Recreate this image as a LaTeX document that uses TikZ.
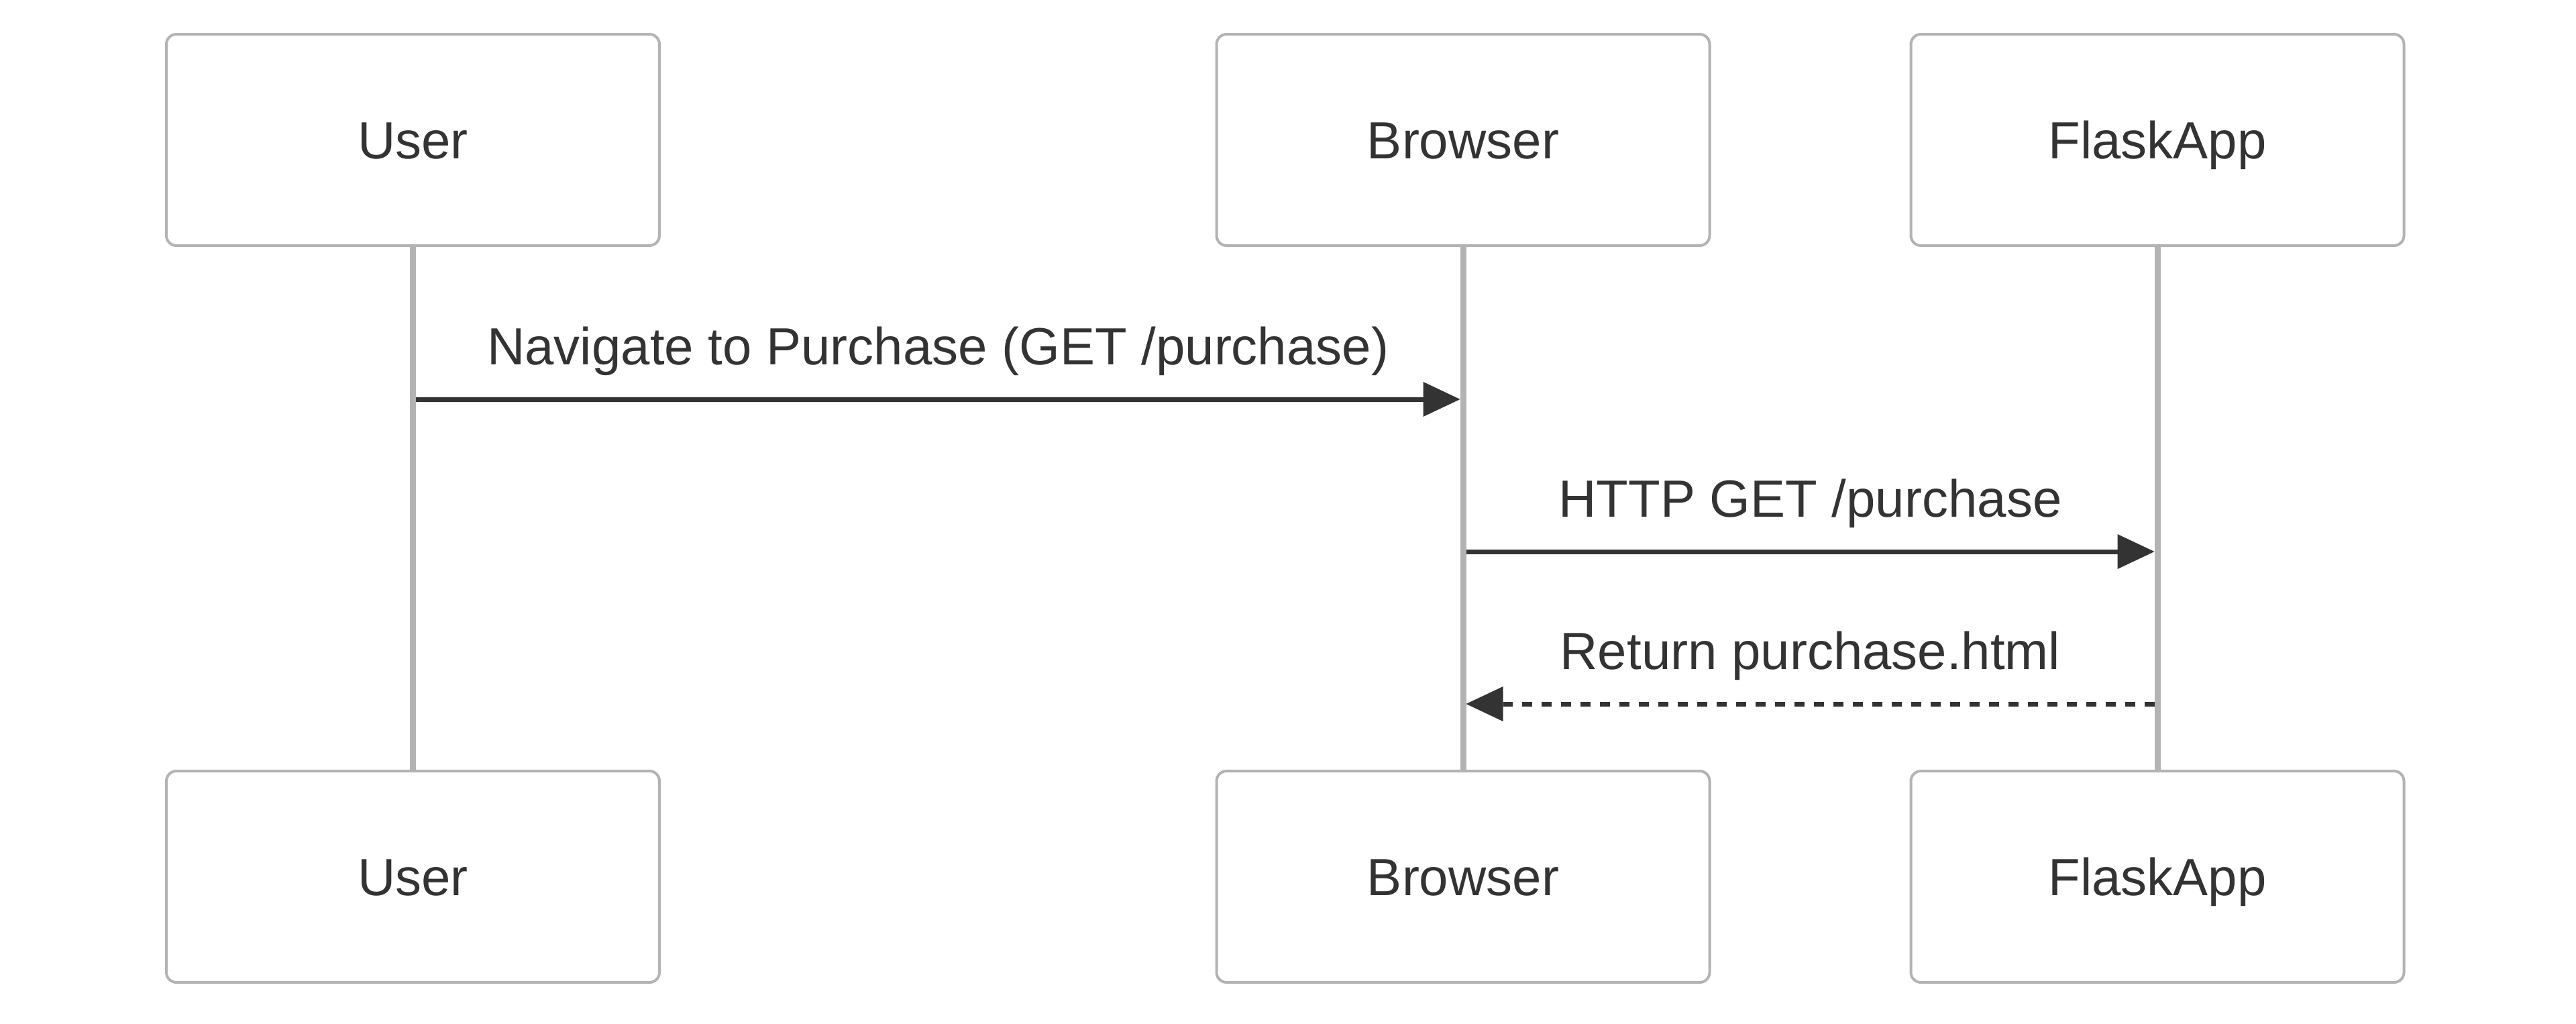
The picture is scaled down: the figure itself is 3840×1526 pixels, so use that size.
\documentclass[tikz,border=0pt]{standalone}
\usepackage{fontspec}
\setmainfont{Liberation Sans}
\usetikzlibrary{arrows.meta}
\definecolor{boxgray}{HTML}{B3B3B3}
\definecolor{ink}{HTML}{333333}
\begin{document}
\begin{tikzpicture}[x=0.5pt,y=-0.5pt,
  actor/.style={draw=boxgray, line width=2pt, fill=white, rounded corners=7.5pt,
    minimum width=367.5pt, minimum height=157.5pt, inner sep=0pt, text=ink,
    text height=27.5pt, text depth=0pt,
    font=\fontsize{39}{47}\selectfont},
  life/.style={draw=boxgray, line width=4.5pt},
  msg/.style={draw=ink, line width=3.5pt,
    -{Triangle[length=27.5pt,width=26pt,line width=0pt]}},
  reply/.style={msg, dash pattern=on 7.5pt off 7pt},
  lbl/.style={text=ink, font=\fontsize{39}{47}\selectfont, anchor=base, yshift=26pt}]
\useasboundingbox (0,0) rectangle (3840,1526);
\fill[white] (0,0) rectangle (3840,1526);
% participants
\node[actor] (u1) at (615.5,208.5) {User};
\node[actor] (b1) at (2181,208.5) {Browser};
\node[actor] (f1) at (3216,208.5) {FlaskApp};
\node[actor] (u2) at (615.5,1306.5) {User};
\node[actor] (b2) at (2181,1306.5) {Browser};
\node[actor] (f2) at (3216,1306.5) {FlaskApp};
% lifelines
\draw[life] (u1.south) -- (u2.north);
\draw[life] (b1.south) -- (b2.north);
\draw[life] (f1.south) -- (f2.north);
% message rows
\coordinate (r1) at (0,595);
\coordinate (r2) at (0,822);
\coordinate (r3) at (0,1049);
% messages
\draw[msg] ([xshift=2.25pt]u1.south |- r1) -- ([xshift=-2.25pt]b1.south |- r1)
  node[lbl, midway] {Navigate to Purchase (GET /purchase)};
\draw[msg] ([xshift=2.25pt]b1.south |- r2) -- ([xshift=-2.25pt]f1.south |- r2)
  node[lbl, midway] {HTTP GET /purchase};
\draw[reply] ([xshift=-2.25pt]f1.south |- r3) -- ([xshift=2.25pt]b1.south |- r3)
  node[lbl, midway] {Return purchase.html};
\end{tikzpicture}
\end{document}
